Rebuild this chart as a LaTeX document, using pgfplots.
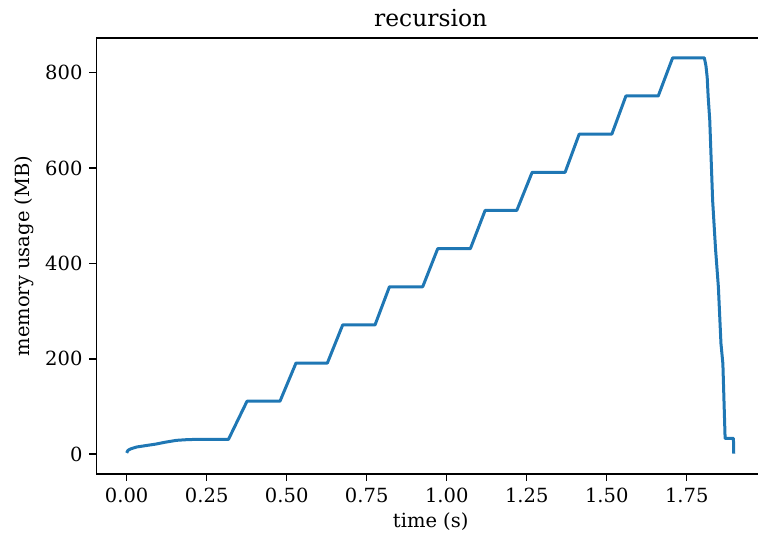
\documentclass[border=0pt]{standalone}
\usepackage{fontspec}
\setmainfont{DejaVu Serif}
\usepackage{pgfplots}
\pgfplotsset{compat=1.18}
\definecolor{mplblue}{HTML}{1F77B4}
\begin{document}
\begin{tikzpicture}
\begin{axis}[
  name=ax,
  scale only axis,
  width=334.4pt, height=218pt,
  xmin=-0.095, xmax=1.995,
  ymin=-41.6, ymax=872.6,
  axis line style={line width=0.78pt, black},
  tick pos=left,
  tick align=outside,
  major tick length=3.4pt,
  every tick/.style={line width=0.78pt, black},
  xtick={0,0.25,0.5,0.75,1,1.25,1.5,1.75},
  ytick={0,200,400,600,800},
  xticklabel style={/pgf/number format/.cd, fixed, fixed zerofill, precision=2},
  /pgf/number format/assume math mode=true,
  tick label style={font=\fontsize{9.75pt}{11pt}\selectfont},
  title={recursion},
  every axis title/.style={at={(axis description cs:0.5,1)}, anchor=base, yshift=5.85pt, inner sep=0pt, font=\fontsize{11.7pt}{14pt}\selectfont},
  xlabel={time (s)},
  ylabel={memory usage (MB)},
  every axis x label/.style={at={(axis description cs:0.5,0)}, anchor=base, yshift=-26.5pt, inner sep=0pt, font=\fontsize{9.75pt}{11pt}\selectfont},
  every axis y label/.style={at={(axis description cs:-0.1005,0.5)}, rotate=90, anchor=base, inner sep=0pt, font=\fontsize{9.75pt}{11pt}\selectfont},
]
\addplot[mplblue, line width=1.5pt, line join=round, mark=none] coordinates {
(0,2.7) (0.004,8) (0.012,11) (0.031,15) (0.06,18) (0.09,21) (0.12,25) (0.156,29) (0.19,30.5) (0.219,31) (0.318,31)
(0.376,111) (0.479,111)
(0.529,191) (0.627,191)
(0.675,271) (0.776,271)
(0.821,351) (0.925,351)
(0.972,431) (1.074,431)
(1.120,511) (1.219,511)
(1.267,591) (1.370,591)
(1.414,671) (1.516,671)
(1.560,751) (1.661,751)
(1.706,831) (1.805,831)
(1.810,815) (1.814,790) (1.817,750) (1.822,700) (1.831,532) (1.840,431) (1.849,350) (1.857,232) (1.863,190) (1.870,33) (1.896,33) (1.897,1)
};
\end{axis}
\pgfresetboundingbox
\useasboundingbox (ax.south west) ++(-48.15pt,-30.5pt) rectangle ++(379pt,267.5pt);
\end{tikzpicture}
\end{document}
